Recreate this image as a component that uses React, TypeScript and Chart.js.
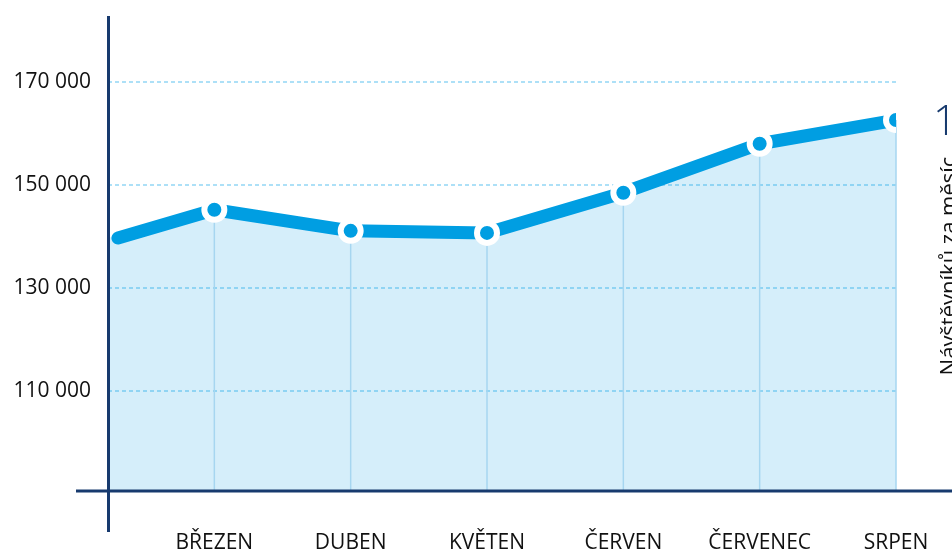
import React, { useEffect, useRef } from "react";
import { Chart, registerables } from "chart.js";

Chart.register(...registerables);

// ---- data ----
const MONTHS = ["BŘEZEN", "DUBEN", "KVĚTEN", "ČERVEN", "ČERVENEC", "SRPEN"];
const VISITORS = [145200, 141100, 140700, 148500, 158000, 162600];
const START_VALUE = 139700;
const Y_TICKS = [110000, 130000, 150000, 170000];
const Y_MIN = 90600;
const Y_MAX = 182800;
const X_MIN = 0.22;
const X_MAX = 6;
const LINE_START_X = 0.293;
const AXIS_TITLE = "Návštěvníků za měsíc";
const CORNER_TEXT = "1";

// ---- styles ----
const FONT = "'Open Sans', 'Noto Sans', sans-serif";
const LINE_COLOR = "#009ee2";
const FILL_COLOR = "rgba(0, 150, 225, 0.165)";
const GRID_COLOR = "#ade0f7";
const DROP_COLOR = "#a6d6f0";
const AXIS_COLOR = "#173a6e";
const TEXT_COLOR = "#111111";

const fmt = (v: number) => String(v).replace(/\B(?=(\d{3})+(?!\d))/g, " ");

const monthPoints = VISITORS.map((v, i) => ({ x: i + 1, y: v }));

const zeroPad = (axis: any) => {
  axis.paddingTop = 0;
  axis.paddingBottom = 0;
  axis.paddingLeft = 0;
  axis.paddingRight = 0;
};

const decorPlugin = {
  id: "decor",
  afterDatasetDraw(chart: any, args: any) {
    if (args.index !== 1) return;
    const { ctx, chartArea } = chart;
    const meta = chart.getDatasetMeta(0);
    ctx.save();
    ctx.strokeStyle = DROP_COLOR;
    ctx.lineWidth = 1.5;
    meta.data.forEach((pt: any, i: number) => {
      if (i === 0) return;
      ctx.beginPath();
      ctx.moveTo(pt.x, pt.y);
      ctx.lineTo(pt.x, chartArea.bottom);
      ctx.stroke();
    });
    ctx.restore();
  },
  afterDraw(chart: any) {
    const { ctx, chartArea, width } = chart;
    ctx.save();
    ctx.strokeStyle = AXIS_COLOR;
    ctx.lineWidth = 3;
    // y axis
    ctx.beginPath();
    ctx.moveTo(chartArea.left + 0.5, chartArea.top);
    ctx.lineTo(chartArea.left + 0.5, chartArea.bottom + 41);
    ctx.stroke();
    // x axis
    ctx.beginPath();
    ctx.moveTo(chartArea.left - 32, chartArea.bottom);
    ctx.lineTo(width, chartArea.bottom);
    ctx.stroke();
    // right title (rotated)
    ctx.fillStyle = TEXT_COLOR;
    ctx.font = `22px ${FONT}`;
    ctx.translate(956, 266);
    ctx.rotate(-Math.PI / 2);
    ctx.textAlign = "center";
    ctx.textBaseline = "alphabetic";
    ctx.fillText(AXIS_TITLE, 0, 0);
    ctx.restore();
    // corner number
    ctx.save();
    ctx.fillStyle = AXIS_COLOR;
    ctx.font = `300 42px ${FONT}`;
    ctx.textAlign = "left";
    ctx.textBaseline = "alphabetic";
    ctx.fillText(CORNER_TEXT, 933, 135);
    ctx.restore();
  },
};

export default function App() {
  const ref = useRef<HTMLCanvasElement>(null);
  useEffect(() => {
    if (!ref.current) return;
    const chart = new Chart(ref.current, {
      type: "line",
      data: {
        datasets: [
          {
            label: "line",
            data: [{ x: LINE_START_X, y: START_VALUE }, ...monthPoints],
            borderColor: LINE_COLOR,
            borderWidth: 13,
            borderCapStyle: "round",
            borderJoinStyle: "round",
            backgroundColor: LINE_COLOR,
            pointRadius: [0, 10, 10, 10, 10, 10, 10],
            pointBorderWidth: 6,
            pointBorderColor: "#ffffff",
            pointBackgroundColor: LINE_COLOR,
            fill: false,
            tension: 0,
            order: 0,
          },
          {
            label: "area",
            data: [{ x: X_MIN, y: START_VALUE }, ...monthPoints],
            borderWidth: 0,
            borderColor: "rgba(0,0,0,0)",
            backgroundColor: FILL_COLOR,
            pointRadius: 0,
            fill: "start",
            tension: 0,
            order: 1,
          },
        ],
      } as any,
      options: {
        responsive: false,
        animation: false,
        layout: { padding: { top: 13, right: 56, left: 0, bottom: 0 } },
        plugins: {
          legend: { display: false },
          tooltip: { enabled: false },
        },
        scales: {
          x: {
            type: "linear",
            min: X_MIN,
            max: X_MAX,
            grid: { display: false, drawTicks: false },
            border: { display: false },
            afterBuildTicks: (axis: any) => {
              axis.ticks = MONTHS.map((_, i) => ({ value: i + 1 }));
            },
            afterFit: (axis: any) => {
              axis.height = 61;
              zeroPad(axis);
            },
            ticks: {
              autoSkip: false,
              maxRotation: 0,
              padding: 39,
              color: TEXT_COLOR,
              font: { family: FONT, size: 21 },
              callback: (v: any) => MONTHS[Math.round(Number(v)) - 1] ?? "",
            },
          },
          y: {
            min: Y_MIN,
            max: Y_MAX,
            grid: { color: GRID_COLOR, lineWidth: 2, drawTicks: false },
            border: { display: false, dash: [4, 3] },
            afterBuildTicks: (axis: any) => {
              axis.ticks = Y_TICKS.map((v) => ({ value: v }));
            },
            afterFit: (axis: any) => {
              axis.width = 108;
              zeroPad(axis);
            },
            ticks: {
              padding: 17,
              color: TEXT_COLOR,
              font: { family: FONT, size: 21 },
              callback: (v: any) => fmt(Number(v)),
            },
          },
        },
      } as any,
      plugins: [decorPlugin],
    });
    return () => chart.destroy();
  }, []);
  return (
    <div style={{ position: "absolute", left: 0, top: 0, width: 952, height: 552 }}>
      <canvas ref={ref} width={952} height={552} />
    </div>
  );
}
